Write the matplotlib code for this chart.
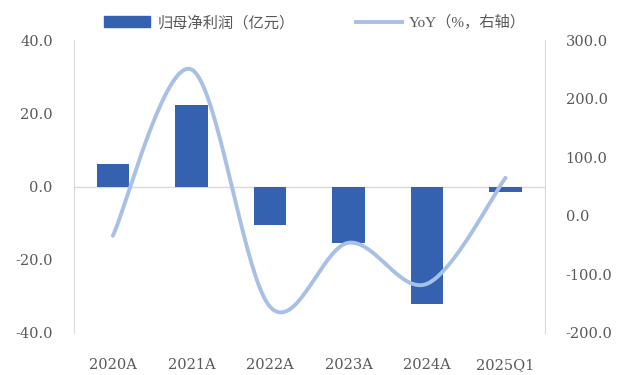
import numpy as np
import matplotlib.pyplot as plt
from matplotlib.lines import Line2D
from matplotlib.patches import Patch

plt.rcParams['font.family'] = ['Liberation Serif', 'Noto Sans CJK SC']

categories = ['2020A', '2021A', '2022A', '2023A', '2024A', '2025Q1']
profit = [6.1, 22.4, -10.6, -15.4, -32.2, -1.4]
yoy = [-34.0, 250.0, -155.0, -46.0, -116.0, 65.0]

bar_color = '#3562B0'
line_color = '#A8BFE6'
text_color = '#595959'


def smooth(xs, ys, n=40):
    # Catmull-Rom style smoothing like Excel's smoothed line
    xs = np.asarray(xs, float)
    ys = np.asarray(ys, float)
    px = np.concatenate([[xs[0]], xs, [xs[-1]]])
    py = np.concatenate([[ys[0]], ys, [ys[-1]]])
    outx, outy = [], []
    for i in range(1, len(px) - 2):
        p0x, p1x, p2x, p3x = px[i - 1], px[i], px[i + 1], px[i + 2]
        p0y, p1y, p2y, p3y = py[i - 1], py[i], py[i + 1], py[i + 2]
        c1x = p1x + (p2x - p0x) / 6
        c1y = p1y + (p2y - p0y) / 6
        c2x = p2x - (p3x - p1x) / 6
        c2y = p2y - (p3y - p1y) / 6
        t = np.linspace(0, 1, n)
        bx = (1 - t) ** 3 * p1x + 3 * (1 - t) ** 2 * t * c1x + 3 * (1 - t) * t ** 2 * c2x + t ** 3 * p2x
        by = (1 - t) ** 3 * p1y + 3 * (1 - t) ** 2 * t * c1y + 3 * (1 - t) * t ** 2 * c2y + t ** 3 * p2y
        outx.extend(bx)
        outy.extend(by)
    return np.array(outx), np.array(outy)


fig = plt.figure(figsize=(6.24, 3.75), dpi=100)
ax = fig.add_axes([0.118, 0.112, 0.755, 0.781])
ax2 = ax.twinx()

x = np.arange(len(categories))
ax.bar(x, profit, width=0.41, color=bar_color, zorder=2)
ax.axhline(0, color='#D9D9D9', lw=1, zorder=1)
ax.set_ylim(-40, 40)
ax.set_yticks([-40, -20, 0, 20, 40])
ax.set_yticklabels(['%.1f' % v for v in [-40, -20, 0, 20, 40]])
ax.set_xlim(-0.5, len(categories) - 0.5)
ax.set_xticks(x)
ax.set_xticklabels(categories)

sx, sy = smooth(x, yoy)
ax2.plot(sx, sy, color=line_color, lw=2.8, solid_capstyle='round', zorder=3)
ax2.set_ylim(-200, 300)
ax2.set_yticks([-200, -100, 0, 100, 200, 300])
ax2.set_yticklabels(['%.1f' % v for v in [-200, -100, 0, 100, 200, 300]])

for a in (ax, ax2):
    for s in ('top', 'bottom'):
        a.spines[s].set_visible(False)
    a.spines['left'].set_color('#D9D9D9')
    a.spines['right'].set_color('#D9D9D9')
    a.tick_params(length=0, colors=text_color, labelsize=10.5)
    for lab in a.get_xticklabels() + a.get_yticklabels():
        lab.set_family('DejaVu Serif')
ax2.spines['left'].set_visible(False)
ax.spines['right'].set_visible(False)
ax.tick_params(axis='y', pad=15)
ax2.tick_params(axis='y', pad=15)
ax.tick_params(axis='x', pad=18)

handles = [Patch(color=bar_color), Line2D([0], [0], color=line_color, lw=2.8)]
labels = ['归母净利润（亿元）', 'YoY（%，右轴）']
fig.legend(handles, labels, loc='center', bbox_to_anchor=(0.505, 0.94), ncol=2,
           frameon=False, fontsize=11, labelcolor=text_color,
           handlelength=3.0, handleheight=0.7, columnspacing=4, handletextpad=0.5)

fig.savefig('out.png', dpi=100)
